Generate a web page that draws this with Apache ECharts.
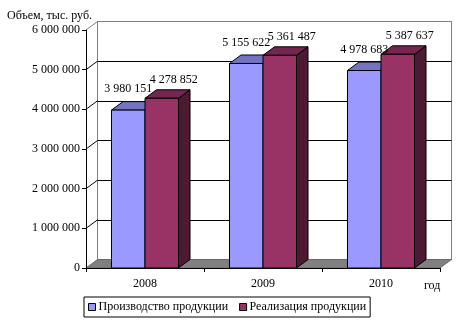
<!DOCTYPE html>
<html><head><meta charset="utf-8">
<script src="https://cdn.jsdelivr.net/npm/echarts@6/dist/echarts.min.js"></script>
<style>html,body{margin:0;padding:0;background:#fff}#c{width:460px;height:327px}</style>
</head><body><div id="c"></div>
<script>
const categories = ['2008', '2009', '2010'];
const production = [3980151, 5155622, 4978683];
const sales = [4278852, 5361487, 5387637];
const yTicks = [0, 1000000, 2000000, 3000000, 4000000, 5000000, 6000000];
const seriesNames = ['Производство продукции', 'Реализация продукции'];
const yAxisTitle = 'Объем, тыс. руб.';
const xAxisTitle = 'год';

const DX = 11.5, DY = -8.5;
const FONT = '"Liberation Serif", "Times New Roman", serif';
function fmt(v) { return String(v).replace(/\B(?=(\d{3})+(?!\d))/g, ' '); }

function barGeom(side, api) {
  const idx = api.value(0), val = api.value(1);
  const base = api.coord([idx, 0]);
  const top = api.coord([idx, val]);
  const band = api.size([1, 0])[0];
  const w = band * 0.284;
  const x0 = base[0] + (side === 0 ? -w : 0);
  return { x0: x0, x1: x0 + w, yb: base[1], yt: top[1], w: w, val: val };
}

function barRender(side, colors) {
  return function (params, api) {
    const g = barGeom(side, api);
    const x0 = g.x0, x1 = g.x1, yb = g.yb, yt = g.yt;
    const st = '#000';
    return {
      type: 'group', children: [
        { type: 'polygon', shape: { points: [[x1, yb], [x1 + DX, yb + DY], [x1 + DX, yt + DY], [x1, yt]] }, style: { fill: colors[2], stroke: st, lineWidth: 1 } },
        { type: 'polygon', shape: { points: [[x0, yt], [x0 + DX, yt + DY], [x1 + DX, yt + DY], [x1, yt]] }, style: { fill: colors[1], stroke: st, lineWidth: 1 } },
        { type: 'rect', shape: { x: x0, y: yt, width: g.w, height: yb - yt }, style: { fill: colors[0], stroke: st, lineWidth: 1 } }
      ]
    };
  };
}

function labelRender(side, labelDx, labelDy) {
  return function (params, api) {
    const g = barGeom(side, api);
    return { type: 'text', x: (g.x0 + g.x1) / 2 + labelDx, y: g.yt + labelDy,
      style: { text: fmt(g.val), fill: '#000', font: '12px ' + FONT, align: 'center', verticalAlign: 'middle' } };
  };
}

function frameRender(params, api) {
  const band = api.size([1, 0])[0];
  const left = api.coord([0, 0])[0] - band / 2;
  const right = api.coord([categories.length - 1, 0])[0] + band / 2;
  const y0 = api.coord([0, 0])[1];
  const children = [{ type: 'polygon', shape: { points: [[left, y0], [right, y0], [right + DX, y0 + DY], [left + DX, y0 + DY]] }, style: { fill: '#808080', stroke: '#6a6a6a', lineWidth: 1 } }];
  yTicks.forEach(function (t) {
    if (t === 0) return;
    const y = api.coord([0, t])[1];
    children.push({ type: 'line', shape: { x1: left, y1: y, x2: left + DX, y2: y + DY }, style: { stroke: t === yTicks[yTicks.length - 1] ? '#808080' : '#000', lineWidth: 1 } });
  });
  return { type: 'group', children: children };
}

const chart = echarts.init(document.getElementById('c'), null, { renderer: 'canvas' });
const gridColors = yTicks.map(function (t, i) { return i === yTicks.length - 1 ? '#808080' : '#000'; });
const prodData = production.map(function (v, i) { return [i, v]; });
const salesData = sales.map(function (v, i) { return [i, v]; });
chart.setOption({
  animation: false,
  backgroundColor: '#fff',
  textStyle: { fontFamily: FONT },
  graphic: [
    { type: 'text', left: 7, top: 10, style: { text: yAxisTitle, fill: '#000', font: '12px ' + FONT } },
    { type: 'text', left: 424, top: 280, style: { text: xAxisTitle, fill: '#000', font: '12px ' + FONT } }
  ],
  legend: {
    data: seriesNames,
    left: 84, top: 297,
    padding: [4, 4, 4, 4],
    borderColor: '#000', borderWidth: 1,
    itemWidth: 7, itemHeight: 7, itemGap: 11,
    icon: 'rect',
    itemStyle: { borderColor: '#000', borderWidth: 1 },
    textStyle: { fontFamily: FONT, fontSize: 12, color: '#000', padding: [0, 0, 0, -2] },
    selectedMode: false
  },
  grid: [
    { left: 86, top: 30, width: 354, height: 238 },
    { left: 86 + DX, top: 30 + DY, width: 354, height: 238, show: true, borderColor: '#808080', borderWidth: 1, backgroundColor: '#fff' }
  ],
  xAxis: [
    { type: 'category', gridIndex: 0, data: categories, z: 5,
      axisLine: { lineStyle: { color: '#000', width: 1 } },
      axisTick: { show: true, length: 4, alignWithLabel: false, lineStyle: { color: '#000' } },
      axisLabel: { color: '#000', fontSize: 12, fontFamily: FONT, margin: 10 } },
    { type: 'category', gridIndex: 1, data: categories, show: false }
  ],
  yAxis: [
    { type: 'value', gridIndex: 0, min: 0, max: 6000000, interval: 1000000, z: 5,
      axisLine: { show: true, lineStyle: { color: '#000', width: 1 } },
      axisTick: { show: true, length: 4, lineStyle: { color: '#000' } },
      splitLine: { show: false },
      axisLabel: { color: '#000', fontSize: 12, fontFamily: FONT, margin: 6, formatter: fmt } },
    { type: 'value', gridIndex: 1, min: 0, max: 6000000, interval: 1000000,
      axisLine: { show: false }, axisTick: { show: false }, axisLabel: { show: false },
      splitLine: { show: true, lineStyle: { color: gridColors, width: 1 } } }
  ],
  series: [
    { type: 'custom', name: 'frame', xAxisIndex: 0, yAxisIndex: 0, z: 1, silent: true, clip: false,
      renderItem: frameRender, data: [[0, 0]] },
    { type: 'custom', name: seriesNames[0], xAxisIndex: 0, yAxisIndex: 0, z: 2, clip: false,
      itemStyle: { color: '#9999FF' },
      renderItem: barRender(0, ['#9999FF', '#7373BF', '#5C5C99']), data: prodData },
    { type: 'custom', name: seriesNames[1], xAxisIndex: 0, yAxisIndex: 0, z: 3, clip: false,
      itemStyle: { color: '#993366' },
      renderItem: barRender(1, ['#993366', '#732650', '#4D1A33']), data: salesData },
    { type: 'custom', name: 'labels0', xAxisIndex: 0, yAxisIndex: 0, z: 10, silent: true, clip: false,
      renderItem: labelRender(0, 0, -21), data: prodData },
    { type: 'custom', name: 'labels1', xAxisIndex: 0, yAxisIndex: 0, z: 11, silent: true, clip: false,
      renderItem: labelRender(1, 12, -18), data: salesData }
  ]
});
</script>
</body></html>
